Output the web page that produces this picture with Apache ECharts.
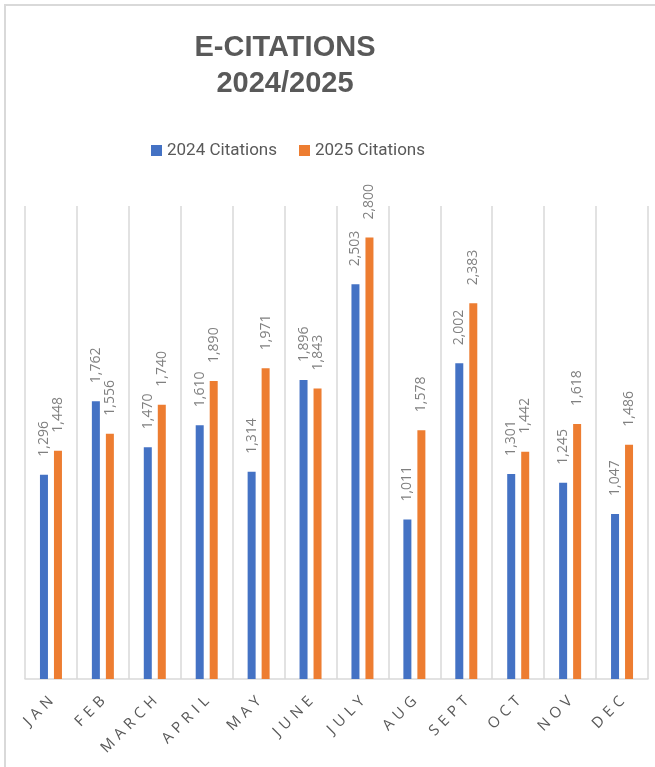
<!DOCTYPE html>
<html lang="en">
<head>
	<meta charset="UTF-8">
	<title>E-Citations 2024/2025</title>
	<style>
		* {
			margin: 0;
			padding: 0;
		}

		#box {
			width: 655px;
			height: 767px;
		}
	</style>
	<script src="https://cdn.jsdelivr.net/npm/echarts@6/dist/echarts.min.js"></script>
</head>
<body>
<div id="box"></div>
</body>
<script>
	// data
	const months = ['JAN', 'FEB', 'MARCH', 'APRIL', 'MAY', 'JUNE', 'JULY', 'AUG', 'SEPT', 'OCT', 'NOV', 'DEC'];
	const citations2024 = [1296, 1762, 1470, 1610, 1314, 1896, 2503, 1011, 2002, 1301, 1245, 1047];
	const citations2025 = [1448, 1556, 1740, 1890, 1971, 1843, 2800, 1578, 2383, 1442, 1618, 1486];
	const seriesNames = ['2024 Citations', '2025 Citations'];

	const myEcharts = echarts.init(document.getElementById('box'));

	// Excel-like character spacing on the month labels
	const spaced = (s, sep) => s.split('').join(sep);

	const barLabel = {
		show: true,
		position: 'top',
		distance: 18,
		rotate: 90,
		align: 'left',
		verticalAlign: 'middle',
		color: '#808080',
		fontFamily: 'Open Sans',
		fontSize: 14,
		formatter: p => p.value.toLocaleString('en-US'),
	};

	myEcharts.setOption({
		backgroundColor: '#fff',
		animation: false,
		title: {
			text: 'E-CITATIONS\n2024/2025',
			left: 285,
			top: 30,
			padding: 0,
			textAlign: 'center',
			textStyle: {
				color: '#595959',
				fontFamily: 'Liberation Sans',
				fontWeight: 'bold',
				fontSize: 29,
				lineHeight: 36,
			},
		},
		legend: {
			data: seriesNames,
			left: 151,
			top: 142,
			padding: 0,
			icon: 'rect',
			itemWidth: 11,
			itemHeight: 11,
			itemGap: 22,
			textStyle: {
				color: '#595959',
				fontFamily: 'Roboto',
				fontSize: 17,
			},
		},
		graphic: [{
			type: 'rect',
			shape: {x: 5, y: 5, width: 800, height: 900},
			style: {fill: 'none', stroke: '#d9d9d9', lineWidth: 2},
			silent: true,
		}],
		grid: {
			left: 25,
			right: 7,
			top: 206,
			bottom: 88,
		},
		xAxis: {
			type: 'category',
			data: months,
			axisTick: {show: false},
			axisLine: {lineStyle: {color: '#d9d9d9', width: 1.5}},
			splitLine: {show: true, lineStyle: {color: '#d9d9d9', width: 1.5}},
			axisLabel: {
				rotate: 45,
				margin: 20,
				color: '#595959',
				fontFamily: 'Open Sans',
				fontSize: 15,
				formatter: v => spaced(v, '\u2004'),
			},
		},
		yAxis: {
			type: 'value',
			min: 0,
			max: 3000,
			show: false,
			splitLine: {show: false},
		},
		series: [
			{
				name: seriesNames[0],
				type: 'bar',
				data: citations2024,
				barWidth: 8,
				barGap: '75%',
				itemStyle: {color: '#4472C4'},
				label: barLabel,
			},
			{
				name: seriesNames[1],
				type: 'bar',
				data: citations2025,
				barWidth: 8,
				itemStyle: {color: '#ED7D31'},
				label: barLabel,
			},
		],
	});
</script>
</html>
